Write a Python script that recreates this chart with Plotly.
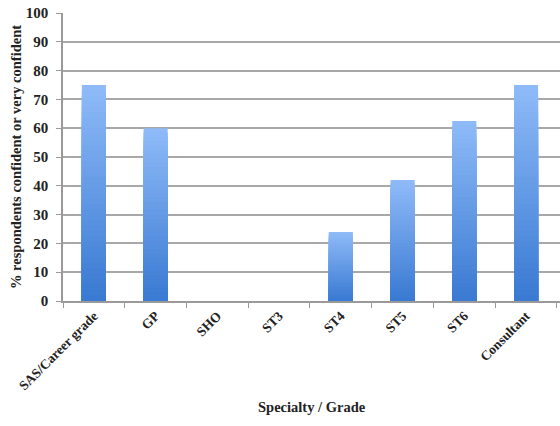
import plotly.graph_objects as go

categories = ["SAS/Career grade", "GP", "SHO", "ST3", "ST4", "ST5", "ST6", "Consultant"]
values = [75, 60, 0, 0, 24, 42, 62.5, 75]
y_ticks = list(range(0, 101, 10))

FONT = "Liberation Serif"
top_rgb = (142, 186, 248)
bot_rgb = (58, 122, 210)
N = 40

fig = go.Figure()
for k in range(N):
    frac = 1 - k / N
    t = k / (N - 1)
    c = tuple(round(top_rgb[i] + (bot_rgb[i] - top_rgb[i]) * t) for i in range(3))
    fig.add_trace(go.Bar(
        x=categories,
        y=[v * frac for v in values],
        width=0.39,
        marker=dict(color="rgb(%d,%d,%d)" % c, line=dict(width=0)),
        showlegend=False,
        hoverinfo="skip",
    ))

fig.update_layout(
    width=560, height=426,
    margin=dict(l=63, r=0, t=13, b=124.5),
    paper_bgcolor="white", plot_bgcolor="white",
    barmode="overlay",
    font=dict(family=FONT, size=12, color="#222"),
    xaxis=dict(
        range=[-0.5, 7.55],
        showgrid=False,
        showline=True, linecolor="#9a9a9a", linewidth=1.5,
        ticks="outside", tickson="boundaries", ticklen=5, tickcolor="#9a9a9a",
        tickangle=-45,
        tickfont=dict(family=FONT, size=13.5, weight="bold", color="#222"),
    ),
    yaxis=dict(
        range=[0, 100],
        tickvals=y_ticks,
        showgrid=True, gridcolor="#a8a8a8", gridwidth=1.5,
        showline=True, linecolor="#9a9a9a", linewidth=1.5,
        ticks="outside", ticklen=5, tickcolor="#9a9a9a",
        ticklabelstandoff=5,
        zeroline=False,
        tickfont=dict(family=FONT, size=15, weight="bold", color="#222"),
        title=dict(text="% respondents confident or very confident",
                   font=dict(family=FONT, size=14.5, weight="bold", color="#222"),
                   standoff=1),
    ),
)

fig.add_annotation(
    text="Specialty / Grade", xref="paper", yref="paper",
    x=0.5, y=-(408 - 301.5) / 288.5,
    showarrow=False, xanchor="center", yanchor="middle",
    font=dict(family=FONT, size=14.5, weight="bold", color="#222"),
)

fig.write_html("out.html")
